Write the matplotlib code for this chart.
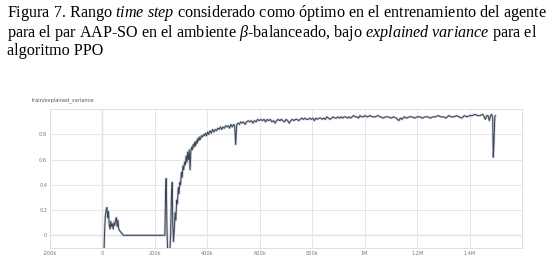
import numpy as np
import matplotlib.pyplot as plt

plt.rcParams['mathtext.fontset'] = 'custom'
plt.rcParams['mathtext.rm'] = 'Liberation Serif'
plt.rcParams['mathtext.it'] = 'Liberation Serif:italic'

# step (thousands) and explained variance
steps_k = [0, 4, 8, 11, 14, 17, 20, 23, 26, 29, 32, 35, 38, 41, 44, 47, 50, 53, 56, 59,
           62, 65, 68, 72, 76, 80, 100, 150, 200, 238, 241, 243, 246, 249, 253, 257, 260, 263, 266, 268,
           271, 274, 277, 280, 283, 286, 289, 292, 295, 298, 301, 304, 307, 310, 313, 316, 319, 322, 325, 328,
           331, 334, 337, 340, 343, 346, 349, 352, 355, 358, 361, 364, 367, 370, 373, 377, 381, 385, 389, 393,
           397, 401, 405, 410, 415, 420, 425, 430, 435, 440, 445, 450, 455, 460, 465, 470, 475, 480, 485, 490,
           495, 500, 504, 508, 512, 517, 522, 527, 532, 538, 544, 550, 556, 562, 568, 574, 580, 586, 592, 598,
           604, 610, 616, 622, 628, 634, 640, 646, 652, 658, 664, 670, 676, 682, 688, 694, 700, 706, 712, 718,
           724, 730, 736, 742, 748, 754, 760, 766, 772, 778, 784, 790, 796, 802, 808, 814, 820, 826, 832, 838,
           844, 850, 856, 862, 868, 874, 880, 886, 892, 898, 904, 910, 916, 922, 928, 934, 940, 946, 952, 958,
           964, 970, 976, 982, 988, 994, 1000, 1010, 1020, 1030, 1040, 1050, 1060, 1070, 1080, 1090, 1100, 1110, 1120, 1130,
           1136, 1142, 1150, 1160, 1170, 1180, 1190, 1200, 1210, 1220, 1230, 1240, 1250, 1260, 1270, 1280, 1290, 1300, 1310, 1320,
           1330, 1340, 1350, 1360, 1370, 1380, 1390, 1400, 1410, 1420, 1430, 1440, 1450, 1455, 1460, 1465, 1470, 1475, 1480, 1484,
           1488, 1490, 1492, 1496, 1498]
values = [-0.50, -0.30, 0.02, 0.15, 0.20, 0.22, 0.14, 0.19, 0.08, 0.05, 0.11, 0.07, 0.09, 0.05, 0.10, 0.08, 0.12, 0.14, 0.07, 0.12,
          0.05, 0.04, 0.03, 0.02, 0.01, 0.0, 0.0, 0.0, 0.0, 0.0, 0.35, 0.45, 0.05, -0.15, -0.30, -0.12, 0.0, 0.30, 0.42, 0.10,
          -0.05, 0.05, 0.18, 0.12, 0.28, 0.25, 0.38, 0.33, 0.42, 0.40, 0.50, 0.46, 0.55, 0.52, 0.58, 0.56, 0.63, 0.58, 0.66, 0.60,
          0.68, 0.52, 0.66, 0.70, 0.68, 0.72, 0.70, 0.74, 0.71, 0.75, 0.73, 0.77, 0.75, 0.78, 0.76, 0.79, 0.78, 0.80, 0.79, 0.81,
          0.79, 0.82, 0.80, 0.83, 0.81, 0.84, 0.82, 0.84, 0.83, 0.85, 0.84, 0.86, 0.84, 0.86, 0.85, 0.87, 0.86, 0.87, 0.85, 0.88,
          0.86, 0.88, 0.87, 0.72, 0.88, 0.89, 0.88, 0.90, 0.89, 0.90, 0.88, 0.90, 0.91, 0.90, 0.91, 0.89, 0.91, 0.90, 0.92, 0.91,
          0.92, 0.91, 0.92, 0.90, 0.92, 0.91, 0.92, 0.90, 0.91, 0.89, 0.91, 0.92, 0.91, 0.92, 0.91, 0.90, 0.92, 0.91, 0.89, 0.91,
          0.92, 0.91, 0.92, 0.92, 0.91, 0.92, 0.93, 0.92, 0.93, 0.92, 0.92, 0.93, 0.92, 0.93, 0.91, 0.93, 0.92, 0.93, 0.93, 0.92,
          0.93, 0.92, 0.94, 0.93, 0.92, 0.93, 0.94, 0.93, 0.93, 0.94, 0.93, 0.94, 0.93, 0.94, 0.94, 0.93, 0.94, 0.93, 0.94, 0.95,
          0.94, 0.94, 0.93, 0.95, 0.94, 0.94, 0.95, 0.94, 0.95, 0.94, 0.94, 0.95, 0.94, 0.93, 0.94, 0.94, 0.93, 0.94, 0.93, 0.91,
          0.93, 0.92, 0.94, 0.93, 0.94, 0.94, 0.93, 0.94, 0.94, 0.93, 0.94, 0.94, 0.93, 0.94, 0.94, 0.95, 0.94, 0.94, 0.93, 0.95,
          0.94, 0.94, 0.95, 0.94, 0.93, 0.95, 0.94, 0.95, 0.95, 0.96, 0.95, 0.95, 0.96, 0.94, 0.92, 0.95, 0.95, 0.91, 0.95, 0.96,
          0.93, 0.62, 0.70, 0.94, 0.95]

x_ticks_k = [-200, 0, 200, 400, 600, 800, 1000, 1200, 1400]
x_labels = ['-200k', '0', '200k', '400k', '600k', '800k', '1M', '1.2M', '1.4M']
y_ticks = [0, 0.2, 0.4, 0.6, 0.8]
y_labels = ['0', '0.2', '0.4', '0.6', '0.8']

caption = ("Figura 7. Rango $\\mathit{time\\ step}$ considerado como óptimo en el entrenamiento del agente\n"
           "para el par AAP-SO en el ambiente $\\beta$-balanceado, bajo $\\mathit{explained\\ variance}$ para el\n"
           "algoritmo PPO")

fig = plt.figure(figsize=(5.59, 2.64), dpi=100)
fig.text(0.012, 0.99, caption, family='Liberation Serif', fontsize=11.6,
         va='top', ha='left', linespacing=1.02)

ax = fig.add_axes([0.0894, 0.0595, 0.8446, 0.5265])
x = np.array(steps_k) * 1000
# faint raw trace behind, darker line on top (tensorboard look)
ax.plot(x, values, color='#c5ccd6', lw=1.8, alpha=0.8, zorder=2)
ax.plot(x, values, color='#3d4657', lw=0.75, zorder=3)

ax.set_xlim(-200000, 1600000)
ax.set_ylim(-0.103, 1.0)
ax.set_xticks(np.array(x_ticks_k) * 1000)
ax.set_xticklabels(x_labels)
ax.set_yticks(y_ticks + [1.0])
ax.set_yticklabels(y_labels + [''])
ax.tick_params(length=0, labelsize=3.6, labelcolor='#777777', pad=2)
ax.grid(True, color='#e6e6e6', lw=0.7)
ax.axhline(0, color='#c4c4c4', lw=0.9, zorder=1)
ax.axvline(0, color='#c4c4c4', lw=0.9, zorder=1)
for s in ax.spines.values():
    s.set_color('#e0e0e0')
    s.set_linewidth(0.7)

fig.text(0.057, 0.619, 'train/explained_variance', fontsize=3.6, color='#555555',
         va='center', ha='left')

fig.savefig('out.png', dpi=100)
